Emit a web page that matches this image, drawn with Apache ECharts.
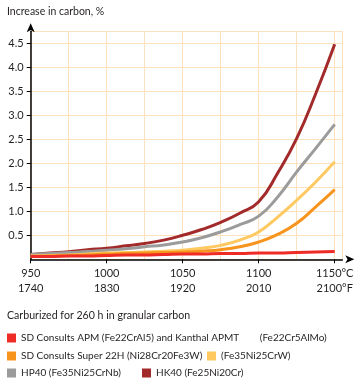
<!DOCTYPE html>
<html><head><meta charset="utf-8">
<script src="https://cdn.jsdelivr.net/npm/echarts@6/dist/echarts.min.js"></script>
<style>html,body{margin:0;padding:0;background:#fff}#c{width:360px;height:384px}</style>
</head><body><div id="c"></div>
<script>
// temperatures (°C) and matching °F labels
const tempsC = [950, 962.5, 975, 987.5, 1000, 1012.5, 1025, 1037.5, 1050, 1062.5, 1075, 1087.5, 1100, 1112.5, 1125, 1137.5, 1150];
const tickC = [950, 1000, 1050, 1100, 1150];
const tickF = ['1740', '1830', '1920', '2010', '2100'];
const yTicks = [0.5, 1.0, 1.5, 2.0, 2.5, 3.0, 3.5, 4.0, 4.5];

// carbon increase, %
const apm    = [0.06, 0.06, 0.07, 0.07, 0.08, 0.09, 0.09, 0.10, 0.11, 0.11, 0.12, 0.12, 0.13, 0.13, 0.14, 0.15, 0.16];
const super22h = [0.06, 0.07, 0.08, 0.09, 0.11, 0.12, 0.13, 0.14, 0.15, 0.17, 0.20, 0.26, 0.36, 0.52, 0.75, 1.09, 1.45];
const fe35w  = [0.07, 0.08, 0.09, 0.11, 0.13, 0.14, 0.15, 0.17, 0.19, 0.23, 0.29, 0.40, 0.57, 0.88, 1.23, 1.61, 2.03];
const hp40   = [0.10, 0.12, 0.14, 0.16, 0.19, 0.22, 0.26, 0.30, 0.36, 0.45, 0.57, 0.72, 0.90, 1.30, 1.82, 2.31, 2.81];
const hk40   = [0.10, 0.13, 0.16, 0.20, 0.23, 0.28, 0.33, 0.40, 0.50, 0.62, 0.77, 0.96, 1.20, 1.80, 2.52, 3.45, 4.48];

const names = {
  apm: 'SD Consults APM (Fe22CrAl5) and Kanthal APMT        (Fe22Cr5AlMo)',
  s22: 'SD Consults Super 22H (Ni28Cr20Fe3W)',
  w: '(Fe35Ni25CrW)',
  hp: 'HP40 (Fe35Ni25CrNb)',
  hk: 'HK40 (Fe25Ni20Cr)'
};
const colors = {apm: '#ee2b24', s22: '#f7941d', w: '#fdc960', hp: '#9b9b9b', hk: '#a22a2a'};

const font = 'Lato, "Liberation Sans", Arial, sans-serif';
const txt = '#231f20';
const pairs = arr => tempsC.map((t, i) => [t, arr[i]]);
function ser(key, arr, z) {
  return {name: names[key], type: 'line', data: pairs(arr), smooth: 0.5, symbol: 'none', z: z,
    lineStyle: {color: colors[key], width: 3}, itemStyle: {color: colors[key]}};
}
function leg(key, left, top) {
  return {data: [names[key]], left: left, top: top, icon: 'rect', itemWidth: 9, itemHeight: 9,
    padding: 0, selectedMode: false, textStyle: {fontFamily: font, fontSize: 10, color: txt}};
}

const chart = echarts.init(document.getElementById('c'), null, {renderer: 'canvas'});
chart.setOption({
  animation: false,
  title: {text: 'Increase in carbon, %', left: 7, top: 6, padding: 0, textStyle: {fontFamily: font, fontSize: 10.5, fontWeight: 'normal', color: txt}},
  grid: {left: 30.7, right: 17.7, top: 31.3, bottom: 124.7},
  graphic: [{type: 'text', left: 7, top: 310, style: {text: 'Carburized for 260 h in granular carbon', font: '10.6px ' + font, fill: txt}}],
  legend: [leg('apm', 7, 333), leg('s22', 7, 351), leg('w', 207, 351), leg('hp', 7, 368), leg('hk', 142, 368)],
  xAxis: {
    type: 'value', min: 950, max: 1155, interval: 50,
    minorTick: {show: false, splitNumber: 2},
    minorSplitLine: {show: true, lineStyle: {color: '#fde1be', width: 1}},
    splitLine: {show: true, lineStyle: {color: '#fde1be', width: 1}},
    axisLine: {show: true, lineStyle: {color: '#000', width: 1.5}, symbol: ['none', 'arrow'], symbolSize: [6, 9], symbolOffset: [0, 12]},
    axisTick: {show: true, length: 4, lineStyle: {color: '#000'}},
    axisLabel: {
      margin: 7, fontFamily: font, fontSize: 11, color: txt, lineHeight: 15, showMaxLabel: false,
      formatter: v => { const i = tickC.indexOf(v); if (i < 0) return ''; return i === tickC.length - 1 ? v + '°C\n' + tickF[i] + '°F' : v + '\n' + tickF[i]; }
    }
  },
  yAxis: {
    type: 'value', min: 0, max: 4.75, interval: 0.5,
    splitLine: {show: true, lineStyle: {color: '#fde1be', width: 1}},
    axisLine: {show: true, lineStyle: {color: '#000', width: 1.5}, symbol: ['none', 'arrow'], symbolSize: [6, 9], symbolOffset: [0, 8]},
    axisTick: {show: true, length: 4, lineStyle: {color: '#000'}},
    axisLabel: {margin: 7, fontFamily: font, fontSize: 11, color: txt, showMinLabel: false, showMaxLabel: false,
      formatter: v => yTicks.indexOf(v) >= 0 ? v.toFixed(1) : ''}
  },
  series: [ser('hk', hk40, 2), ser('hp', hp40, 3), ser('w', fe35w, 4), ser('s22', super22h, 5), ser('apm', apm, 6)]
});
</script></body></html>
